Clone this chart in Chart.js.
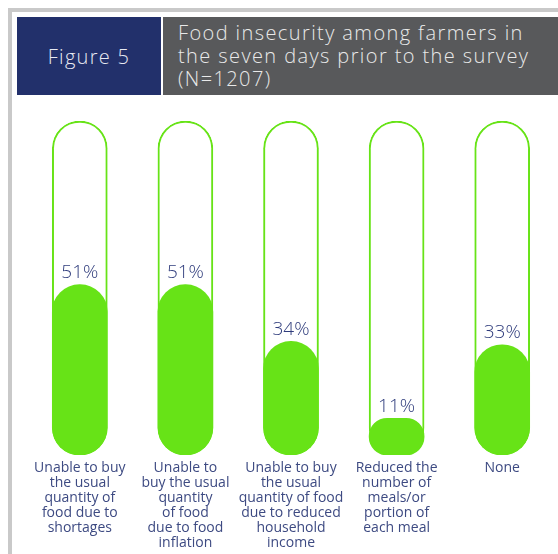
<!DOCTYPE html>
<html>
<head>
<meta charset="utf-8">
<script src="https://cdn.jsdelivr.net/npm/chart.js@4/dist/chart.umd.min.js"></script>
<style>
  html, body { margin: 0; padding: 0; background: #ffffff; }
  body { width: 558px; height: 554px; position: relative; overflow: hidden; font-family: "Open Sans", "Lato", sans-serif; }
  #frameTop { position: absolute; left: 8px; top: 8px; width: 550px; height: 4px; background: #c9c9c9; }
  #frameLeft { position: absolute; left: 8px; top: 8px; width: 4px; height: 546px; background: #c9c9c9; }
  #figBox { position: absolute; left: 17px; top: 17px; width: 144px; height: 78px; background: #22306b;
            color: #e8eaf2; font-size: 20px; font-weight: 300; letter-spacing: 1.3px;
            display: flex; align-items: center; justify-content: center; }
  #titleBox { position: absolute; left: 163px; top: 17px; width: 395px; height: 78px; background: #58595b;
              color: #e9e9e9; font-size: 20px; font-weight: 300; line-height: 23px; letter-spacing: 1.4px;
              box-sizing: border-box; padding: 4px 0 0 15px; white-space: nowrap; }
  #chart { position: absolute; left: 0; top: 0; }
</style>
</head>
<body>
<canvas id="chart" width="558" height="554"></canvas>
<div id="frameTop"></div>
<div id="frameLeft"></div>
<div id="figBox">Figure 5</div>
<div id="titleBox">Food insecurity among farmers in<br>the seven days prior to the survey<br>(N=1207)</div>
<script>
// Response categories (multi-line axis labels)
const categories = [
  ["Unable to buy", "the usual", "quantity of", "food due to", "shortages"],
  ["Unable to", "buy the usual", "quantity", "of food", "due to food", "inflation"],
  ["Unable to buy", "the usual", "quantity of food", "due to reduced", "household", "income"],
  ["Reduced the", "number of", "meals/or", "portion of", "each meal"],
  ["None"]
];
// Share of farmers (%)
const shares = [51, 51, 34, 11, 33];
// Full-scale capsule behind each bar (100%)
const capsule = [100, 100, 100, 100, 100];

const green = '#67e317';
const navy = '#2f3c7c';

const valueLabels = {
  id: 'valueLabels',
  afterDatasetsDraw(chart) {
    const ctx = chart.ctx;
    const meta = chart.getDatasetMeta(1);
    ctx.save();
    ctx.fillStyle = navy;
    ctx.font = '300 19px "Open Sans", sans-serif';
    ctx.textAlign = 'center';
    ctx.textBaseline = 'middle';
    meta.data.forEach((bar, i) => {
      ctx.fillText(shares[i] + '%', bar.x, bar.y - 12);
    });
    ctx.restore();
  }
};

new Chart(document.getElementById('chart'), {
  type: 'bar',
  data: {
    labels: categories,
    datasets: [
      {
        data: capsule,
        backgroundColor: '#ffffff',
        borderColor: green,
        borderWidth: 2,
        borderRadius: 28,
        borderSkipped: false,
        barThickness: 55,
        grouped: false,
        order: 2
      },
      {
        data: shares,
        backgroundColor: green,
        borderWidth: 0,
        borderRadius: 28,
        borderSkipped: false,
        barThickness: 55,
        grouped: false,
        order: 1
      }
    ]
  },
  options: {
    responsive: false,
    animation: false,
    devicePixelRatio: 1,
    layout: { padding: { left: 27, right: 3, top: 121, bottom: 0 } },
    plugins: { legend: { display: false }, tooltip: { enabled: false } },
    scales: {
      x: {
        grid: { display: false, drawTicks: false },
        border: { display: false },
        ticks: {
          color: '#3d4a82',
          font: { family: '"Open Sans", sans-serif', size: 14, lineHeight: '15px' },
          padding: 6,
          maxRotation: 0,
          autoSkip: false
        },
        afterFit(scale) { scale.height = 99; }
      },
      y: {
        display: false,
        min: 0,
        max: 100
      }
    }
  },
  plugins: [valueLabels]
});
</script>
</body>
</html>
